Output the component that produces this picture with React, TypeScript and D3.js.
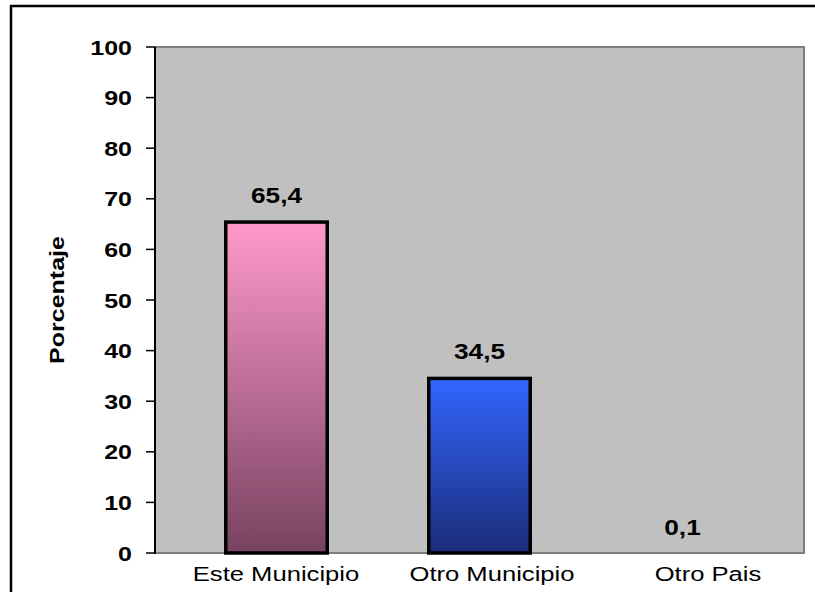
import React from "react";
import * as d3 from "d3";

const categories = ["Este Municipio", "Otro Municipio", "Otro Pais"];
const values = [65.4, 34.5, 0.1];
const valueLabels = ["65,4", "34,5", "0,1"];
const yTicks = [0, 10, 20, 30, 40, 50, 60, 70, 80, 90, 100];
const yTitle = "Porcentaje";

const W = 815;
const H = 592;
const plotLeft = 155;
const plotRight = 804;
const plotTop = 47;
const plotBottom = 553;
const SX = 1.22;
const FONT = "'Liberation Sans', Arial, sans-serif";

const gradients = [
  { id: "g0", top: "#FF99CC", bottom: "#774260", stroke: "#000" },
  { id: "g1", top: "#3366FF", bottom: "#1A2C78", stroke: "#000" },
  { id: "g2", top: "none", bottom: "none", stroke: "none" },
];

export default function App() {
  const y = d3.scaleLinear().domain([0, 100]).range([plotBottom, plotTop]);
  const x = d3
    .scaleBand<string>()
    .domain(categories)
    .range([175, 784])
    .paddingInner(0.5)
    .paddingOuter(0.25);
  const xLabel = d3.scalePoint<string>().domain(categories).range([276, 708]);

  return (
    <svg
      width={W}
      height={H}
      style={{ position: "absolute", left: 0, top: 0, background: "#fff" }}
    >
      <defs>
        {gradients.slice(0, 2).map((g) => (
          <linearGradient key={g.id} id={g.id} x1="0" y1="0" x2="0" y2="1">
            <stop offset="0%" stopColor={g.top} />
            <stop offset="100%" stopColor={g.bottom} />
          </linearGradient>
        ))}
      </defs>
      {/* outer chart border */}
      <rect x={11} y={6} width={W} height={H} fill="#fff" stroke="#000" strokeWidth={2.5} />
      {/* plot area */}
      <rect
        x={plotLeft}
        y={plotTop}
        width={plotRight - plotLeft}
        height={plotBottom - plotTop}
        fill="#C0C0C0"
        stroke="#808080"
        strokeWidth={2}
      />
      {/* left axis */}
      <line x1={plotLeft} x2={plotLeft} y1={plotTop} y2={plotBottom + 1} stroke="#000" strokeWidth={2} />
      {yTicks.map((t) => (
        <g key={t}>
          <line x1={plotLeft - 9} x2={plotLeft} y1={y(t)} y2={y(t)} stroke="#000" strokeWidth={1.5} />
          <text
            transform={`translate(132,${y(t) + 7.5}) scale(${SX},1)`}
            textAnchor="end"
            fontFamily={FONT}
            fontWeight="bold"
            fontSize={20.5}
            fill="#000"
          >
            {t}
          </text>
        </g>
      ))}
      {/* bars */}
      {categories.map((c, i) => {
        const bx = x(c)!;
        const bw = x.bandwidth();
        const top = y(values[i]);
        const g = gradients[i];
        return (
          <g key={c}>
            <rect
              x={bx}
              y={top}
              width={bw}
              height={plotBottom - top}
              fill={g.top === "none" ? "none" : `url(#${g.id})`}
              stroke={g.stroke}
              strokeWidth={3.5}
            />
            <text
              transform={`translate(${bx + bw / 2},${top - (i === 2 ? 17 : 19)}) scale(${SX},1)`}
              textAnchor="middle"
              fontFamily={FONT}
              fontWeight="bold"
              fontSize={21.5}
              fill="#000"
            >
              {valueLabels[i]}
            </text>
            <text
              transform={`translate(${xLabel(c)},581) scale(${SX},1)`}
              textAnchor="middle"
              fontFamily={FONT}
              fontSize={21}
              fill="#000"
            >
              {c}
            </text>
          </g>
        );
      })}
      {/* y title */}
      <text
        transform={`translate(64,${(plotTop + plotBottom) / 2}) rotate(-90) scale(${SX},1)`}
        textAnchor="middle"
        fontFamily={FONT}
        fontWeight="bold"
        fontSize={20.5}
        fill="#000"
      >
        {yTitle}
      </text>
    </svg>
  );
}
